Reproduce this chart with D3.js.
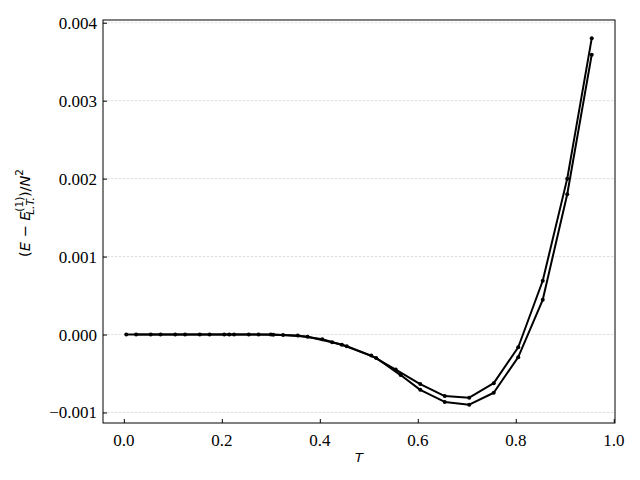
<!DOCTYPE html>
<html>
<head>
<meta charset="utf-8">
<script src="https://cdn.jsdelivr.net/npm/d3@7"></script>
<style>
  body { margin: 0; background: white; }
</style>
</head>
<body>
<script>
const width = 640;
const height = 480;
const margin = { top: 20, right: 25, bottom: 57, left: 103 };

// series 1 (upper curve)
const t1 = [0.005, 0.055, 0.105, 0.155, 0.205, 0.255, 0.305, 0.355, 0.405, 0.455,
            0.505, 0.555, 0.605, 0.655, 0.705, 0.755, 0.805, 0.855, 0.905, 0.955];
const e1 = [0, 0, 0, 0, 0, 0, -0.000003, -0.000012, -0.00006, -0.00015,
            -0.00027, -0.00045, -0.000635, -0.00079, -0.00081, -0.000624, -0.000163, 0.00069, 0.002, 0.0038];

// series 2 (lower curve)
const t2 = [0.025, 0.075, 0.125, 0.175, 0.215, 0.225, 0.275, 0.300, 0.325, 0.375, 0.425,
            0.445, 0.515, 0.565, 0.605, 0.655, 0.705, 0.755, 0.805, 0.855, 0.905, 0.955];
const e2 = [0, 0, 0, 0, 0, 0, 0, 0, -0.000005, -0.000028, -0.0001,
            -0.00013, -0.0003, -0.00052, -0.00071, -0.000865, -0.0009, -0.000747, -0.00029, 0.000445, 0.0018, 0.00359];

const xTicks = [0.0, 0.2, 0.4, 0.6, 0.8, 1.0];
const yTicks = [-0.001, 0.000, 0.001, 0.002, 0.003, 0.004];

const svg = d3.select("body")
  .append("svg")
  .attr("width", width)
  .attr("height", height);

const x = d3.scaleLinear()
  .domain([-0.0425, 1.0025])
  .range([margin.left, width - margin.right]);

const y = d3.scaleLinear()
  .domain([-0.001135, 0.004035])
  .range([height - margin.bottom, margin.top]);

// horizontal grid
svg.append("g")
  .selectAll("line")
  .data(yTicks)
  .join("line")
  .attr("x1", margin.left)
  .attr("x2", width - margin.right)
  .attr("y1", d => y(d))
  .attr("y2", d => y(d))
  .attr("stroke", "#c8c8c8")
  .attr("stroke-width", 0.6)
  .attr("stroke-dasharray", "2.5,1.5");

// lines + markers
const line = d3.line()
  .x(d => x(d[0]))
  .y(d => y(d[1]));

[[t1, e1], [t2, e2]].forEach(([ts, es]) => {
  const pts = ts.map((t, i) => [t, es[i]]);
  svg.append("path")
    .datum(pts)
    .attr("d", line)
    .attr("fill", "none")
    .attr("stroke", "black")
    .attr("stroke-width", 2)
    .attr("stroke-linejoin", "round");
  svg.append("g")
    .selectAll("circle")
    .data(pts)
    .join("circle")
    .attr("cx", d => x(d[0]))
    .attr("cy", d => y(d[1]))
    .attr("r", 2)
    .attr("fill", "black");
});

// axes: tick marks only (inside)
svg.append("g")
  .attr("transform", `translate(0,${height - margin.bottom})`)
  .call(d3.axisBottom(x).tickValues(xTicks).tickFormat("")
    .tickSizeInner(-4).tickSizeOuter(0))
  .call(g => g.select(".domain").remove())
  .call(g => g.selectAll(".tick line").attr("stroke", "black"));

svg.append("g")
  .attr("transform", `translate(${margin.left},0)`)
  .call(d3.axisLeft(y).tickValues(yTicks).tickFormat("")
    .tickSizeInner(-4).tickSizeOuter(0))
  .call(g => g.select(".domain").remove())
  .call(g => g.selectAll(".tick line").attr("stroke", "black"));

// tick labels
svg.append("g")
  .attr("font-family", "Liberation Serif")
  .attr("font-size", 17)
  .selectAll("text")
  .data(xTicks)
  .join("text")
  .attr("x", d => x(d))
  .attr("y", height - margin.bottom + 23)
  .attr("text-anchor", "middle")
  .attr("fill", "black")
  .text(d => d3.format(".1f")(d));

svg.append("g")
  .attr("font-family", "Liberation Serif")
  .attr("font-size", 17)
  .selectAll("text")
  .data(yTicks)
  .join("text")
  .attr("x", margin.left - 6)
  .attr("y", d => y(d) + 6)
  .attr("text-anchor", "end")
  .attr("fill", "black")
  .text(d => d3.format(".3f")(d));

// frame
svg.append("rect")
  .attr("x", margin.left)
  .attr("y", margin.top)
  .attr("width", width - margin.left - margin.right)
  .attr("height", height - margin.top - margin.bottom)
  .attr("fill", "none")
  .attr("stroke", "black")
  .attr("stroke-width", 1);

// x label
svg.append("text")
  .attr("x", (margin.left + width - margin.right) / 2)
  .attr("y", 462)
  .attr("text-anchor", "middle")
  .attr("font-family", "DejaVu Sans")
  .attr("font-style", "italic")
  .attr("font-size", 13)
  .text("T");

// y label
const yl = svg.append("text")
  .attr("transform", "translate(30,213) rotate(-90)")
  .attr("text-anchor", "middle")
  .attr("font-family", "DejaVu Sans")
  .attr("font-size", 14.5);
yl.append("tspan").text("(");
yl.append("tspan").attr("font-style", "italic").text("E");
yl.append("tspan").text(" − ");
yl.append("tspan").attr("font-style", "italic").text("E");
yl.append("tspan").attr("font-size", 10.5).attr("dy", -7).text("(1)");
yl.append("tspan").attr("font-size", 10.5).attr("font-style", "italic").attr("dx", -18).attr("dy", 11).text("L.T.");
yl.append("tspan").attr("dy", -4).text(")/");
yl.append("tspan").attr("font-style", "italic").text("N");
yl.append("tspan").attr("font-size", 10.5).attr("dy", -7).text("2");
</script>
</body>
</html>
